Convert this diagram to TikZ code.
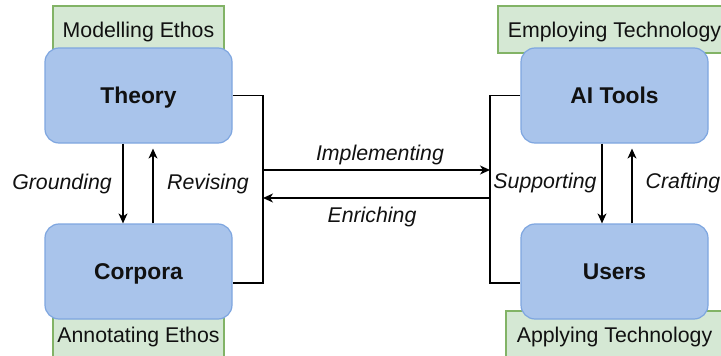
\documentclass[tikz,border=0pt]{standalone}
\usepackage{fontspec}
\setmainfont{Liberation Sans}
\usetikzlibrary{arrows.meta,calc}
\definecolor{boxfill}{HTML}{A9C4EB}
\definecolor{boxline}{HTML}{7EA6E0}
\definecolor{tagfill}{HTML}{D5E8D4}
\definecolor{tagline}{HTML}{82B366}
\definecolor{ink}{HTML}{111111}
\tikzset{
  mainbox/.style={draw=boxline, fill=boxfill, line width=1.2pt, rounded corners=14pt,
    minimum width=187pt, minimum height=95pt, inner sep=0pt,
    text height=16.3pt, text depth=0pt,
    font=\fontsize{22.8}{26}\selectfont\bfseries, text=ink},
  tagbox/.style={draw=tagline, fill=tagfill, line width=1.2pt,
    minimum height=47pt, inner sep=0pt,
    text height=15.25pt, text depth=0pt,
    font=\fontsize{21.3}{25}\selectfont, text=ink},
  flowlabel/.style={font=\fontsize{21.3}{25}\selectfont\itshape, text=ink, inner sep=0pt,
    text height=15.25pt, text depth=0pt},
  link/.style={draw=black, line width=1.3pt},
  arrowlink/.style={link, -{Stealth[length=10pt,width=9pt,inset=3pt]}}
}
\begin{document}
\begin{tikzpicture}[x=1pt,y=-1pt]
\useasboundingbox (0,0) rectangle (721,356);
\clip (0,0) rectangle (721,356);

% tag boxes sit behind the main boxes
\node[tagbox, minimum width=171pt] (modelling) at (138.5,29.5) {Modelling Ethos};
\node[tagbox, minimum width=171pt] (annotating) at (138.5,334.5) {Annotating Ethos};
\node[tagbox, minimum width=233pt] (employing) at (614.5,29.5) {Employing Technology};
\node[tagbox, minimum width=217pt] (applying) at (614.5,334.5) {Applying Technology};

% main boxes
\node[mainbox] (theory) at (138.5,95.5) {Theory};
\node[mainbox] (corpora) at (138.5,271.5) {Corpora};
\node[mainbox] (tools) at (614.5,95.5) {AI Tools};
\node[mainbox] (users) at (614.5,271.5) {Users};

% bracket rails
\coordinate (lbar) at (263,0);
\coordinate (rbar) at (490,0);
\coordinate (impS) at (263,170);
\coordinate (impE) at (490,170);
\coordinate (enrS) at (490,198);
\coordinate (enrE) at (263,198);

\draw[link] (theory.east) -- (theory.east -| lbar) |- ([yshift=-11.5pt]corpora.east);
\draw[link] (tools.west) -- (tools.west -| rbar) |- ([yshift=-11.5pt]users.west);

\draw[arrowlink] (impS) -- (impE);
\draw[arrowlink] (enrS) -- (enrE);

% vertical links
\draw[arrowlink] ([xshift=-15.5pt]theory.south) -- ([xshift=-15.5pt]corpora.north);
\draw[arrowlink, shorten >=5pt] ([xshift=14.5pt]corpora.north) -- ([xshift=14.5pt]theory.south);
\draw[arrowlink] ([xshift=-12.5pt]tools.south) -- ([xshift=-12.5pt]users.north);
\draw[arrowlink, shorten >=5pt] ([xshift=17.5pt]users.north) -- ([xshift=17.5pt]tools.south);

% labels
\node[flowlabel] (grounding) at (62,181.5) {Grounding};
\node[flowlabel] (revising) at (208,181.5) {Revising};
\node[flowlabel] (supporting) at (545,181) {Supporting};
\node[flowlabel] (crafting) at (683,181) {Crafting};
\node[flowlabel] (implementing) at (380,153) {Implementing};
\node[flowlabel] (enriching) at (372,215) {Enriching};
\end{tikzpicture}
\end{document}
